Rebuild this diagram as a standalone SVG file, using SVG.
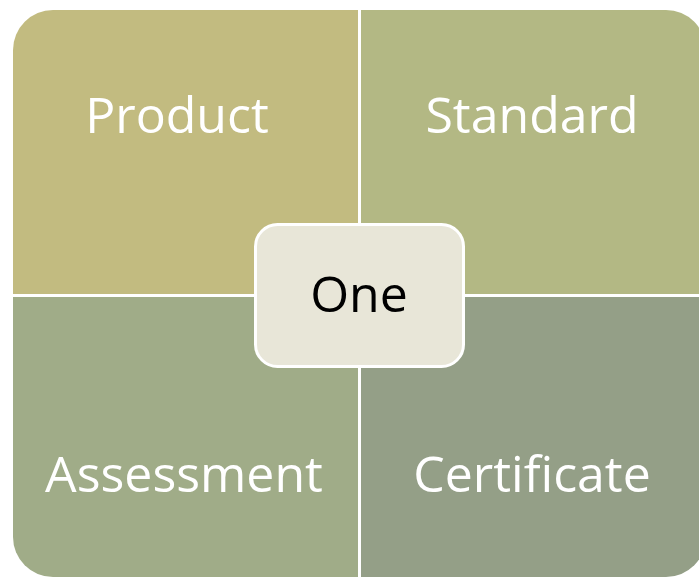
<svg xmlns="http://www.w3.org/2000/svg" width="699" height="578" viewBox="0 0 699 578">
  <defs>
    <clipPath id="outer">
      <rect x="13" y="10" width="693" height="567" rx="40" ry="40"/>
    </clipPath>
  </defs>
  <style>
    .lbl { font-family: "Open Sans", "Noto Sans", sans-serif; font-size: 50px; fill: #ffffff; text-anchor: middle; }
    .center { font-family: "Open Sans", "Noto Sans", sans-serif; font-size: 50px; fill: #000000; text-anchor: middle; }
  </style>
  <rect width="699" height="578" fill="#ffffff"/>
  <g clip-path="url(#outer)">
    <g id="product">
      <rect x="13" y="10" width="345" height="284" fill="#c2bb80"/>
      <text class="lbl" x="177" y="133">Product</text>
    </g>
    <g id="standard">
      <rect x="361" y="10" width="345" height="284" fill="#b3b884"/>
      <text class="lbl" x="532" y="133">Standard</text>
    </g>
    <g id="assessment">
      <rect x="13" y="297" width="345" height="280" fill="#a0ac88"/>
      <text class="lbl" x="184" y="492">Assessment</text>
    </g>
    <g id="certificate">
      <rect x="361" y="297" width="345" height="280" fill="#949f87"/>
      <text class="lbl" x="532" y="492">Certificate</text>
    </g>
  </g>
  <g id="connectors"></g>
  <g id="one">
    <rect x="255.5" y="224.5" width="208" height="142" rx="22" ry="22" fill="#e8e6d8" stroke="#ffffff" stroke-width="3"/>
    <text class="center" x="359" y="312">One</text>
  </g>
</svg>
